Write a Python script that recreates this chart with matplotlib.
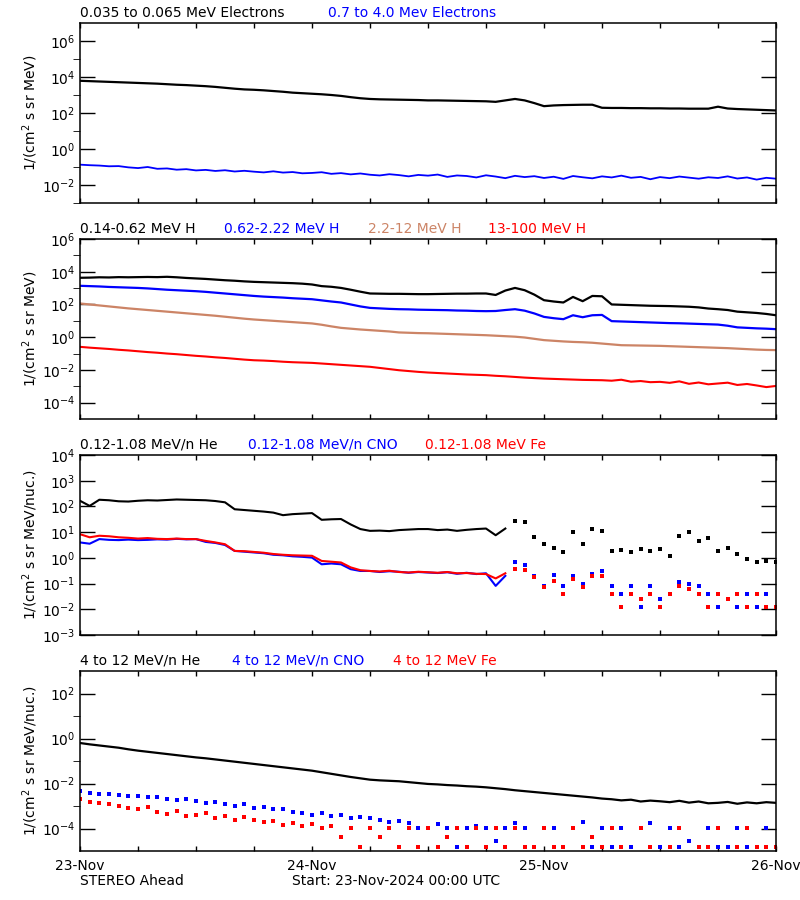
import numpy as np
import matplotlib
matplotlib.use("Agg")
import matplotlib.pyplot as plt
from matplotlib.ticker import FixedLocator, NullLocator, NullFormatter, LogFormatterSciNotation

# hours since 23-Nov-2024 00:00 UTC, one value per hour (log10 of the flux)
hours = np.arange(73)
nan = np.nan

# panel 1: electrons
e_low = [3.79, 3.77, 3.75, 3.73, 3.71, 3.69, 3.67, 3.65, 3.63, 3.60, 3.57, 3.55,
         3.52, 3.49, 3.45, 3.40, 3.35, 3.31, 3.29, 3.26, 3.22, 3.18, 3.13, 3.10,
         3.07, 3.04, 3.00, 2.95, 2.88, 2.82, 2.78, 2.76, 2.75, 2.74, 2.73, 2.72,
         2.70, 2.70, 2.69, 2.68, 2.67, 2.66, 2.65, 2.62, 2.70, 2.78, 2.70, 2.55,
         2.38, 2.42, 2.44, 2.45, 2.46, 2.46, 2.29, 2.28, 2.28, 2.27, 2.27, 2.26,
         2.26, 2.25, 2.25, 2.24, 2.24, 2.24, 2.35, 2.25, 2.22, 2.20, 2.18, 2.16,
         2.14]
e_high = [-0.87, -0.90, -0.92, -0.96, -0.95, -1.02, -1.06, -1.00, -1.10, -1.08, -1.15, -1.12,
          -1.19, -1.16, -1.22, -1.18, -1.25, -1.21, -1.26, -1.30, -1.24, -1.31, -1.28, -1.35,
          -1.33, -1.29, -1.38, -1.34, -1.41, -1.36, -1.43, -1.47, -1.40, -1.45, -1.52, -1.44,
          -1.48, -1.42, -1.55, -1.47, -1.50, -1.58, -1.46, -1.53, -1.62, -1.49, -1.56, -1.51,
          -1.61, -1.54, -1.66, -1.50, -1.57, -1.63, -1.52, -1.58, -1.48, -1.60, -1.55, -1.68,
          -1.56, -1.62, -1.53, -1.59, -1.65, -1.57, -1.61, -1.52, -1.64, -1.58, -1.70, -1.60,
          -1.65]

# panel 2: protons
h1 = [3.63, 3.64, 3.66, 3.65, 3.67, 3.66, 3.67, 3.68, 3.67, 3.69, 3.66, 3.62,
      3.59, 3.56, 3.52, 3.48, 3.45, 3.41, 3.38, 3.36, 3.34, 3.32, 3.30, 3.27,
      3.22, 3.12, 3.08, 3.01, 2.90, 2.78, 2.67, 2.66, 2.65, 2.65, 2.64, 2.63,
      2.63, 2.64, 2.65, 2.66, 2.66, 2.67, 2.67, 2.58, 2.85, 3.01, 2.87, 2.60,
      2.26, 2.18, 2.12, 2.46, 2.20, 2.52, 2.50, 2.00, 1.98, 1.96, 1.94, 1.92,
      1.91, 1.90, 1.88, 1.86, 1.82, 1.75, 1.71, 1.66, 1.56, 1.52, 1.48, 1.42,
      1.34]
h2 = [3.14, 3.12, 3.10, 3.07, 3.05, 3.03, 3.01, 2.98, 2.94, 2.90, 2.87, 2.84,
      2.81, 2.77, 2.72, 2.67, 2.62, 2.57, 2.52, 2.48, 2.45, 2.42, 2.38, 2.35,
      2.32, 2.25, 2.18, 2.12, 2.00, 1.88, 1.79, 1.76, 1.73, 1.71, 1.70, 1.68,
      1.67, 1.66, 1.65, 1.63, 1.62, 1.60, 1.59, 1.60, 1.66, 1.71, 1.62, 1.45,
      1.24, 1.16, 1.10, 1.34, 1.22, 1.34, 1.36, 0.98, 0.96, 0.94, 0.92, 0.90,
      0.88, 0.86, 0.85, 0.83, 0.81, 0.79, 0.77, 0.70, 0.60, 0.57, 0.54, 0.52,
      0.49]
h3 = [2.06, 2.00, 1.94, 1.88, 1.82, 1.76, 1.71, 1.66, 1.61, 1.56, 1.51, 1.46,
      1.41, 1.36, 1.31, 1.25, 1.19, 1.13, 1.08, 1.04, 1.00, 0.96, 0.92, 0.88,
      0.84, 0.76, 0.66, 0.57, 0.52, 0.47, 0.43, 0.39, 0.35, 0.29, 0.27, 0.25,
      0.24, 0.22, 0.20, 0.18, 0.16, 0.14, 0.12, 0.09, 0.06, 0.03, -0.02, -0.10,
      -0.18, -0.22, -0.26, -0.29, -0.31, -0.34, -0.39, -0.44, -0.49, -0.50, -0.51, -0.52,
      -0.53, -0.55, -0.57, -0.59, -0.61, -0.63, -0.65, -0.67, -0.70, -0.73, -0.76, -0.78,
      -0.79]
h4 = [-0.59, -0.64, -0.68, -0.72, -0.77, -0.81, -0.86, -0.91, -0.95, -1.00, -1.04, -1.09,
      -1.14, -1.18, -1.23, -1.27, -1.32, -1.37, -1.41, -1.43, -1.46, -1.50, -1.53, -1.55,
      -1.57, -1.61, -1.65, -1.69, -1.73, -1.77, -1.81, -1.88, -1.95, -2.02, -2.07, -2.12,
      -2.16, -2.19, -2.22, -2.25, -2.28, -2.30, -2.32, -2.36, -2.39, -2.43, -2.47, -2.50,
      -2.53, -2.55, -2.57, -2.59, -2.61, -2.62, -2.63, -2.66, -2.60, -2.72, -2.68, -2.75,
      -2.73, -2.79, -2.70, -2.85, -2.77, -2.88, -2.83, -2.78, -2.92, -2.86, -2.95, -3.05,
      -2.98]

# panel 3: 0.12-1.08 MeV/n ions
he_lo = [2.22, 2.02, 2.26, 2.24, 2.20, 2.19, 2.22, 2.24, 2.23, 2.25, 2.27, 2.26,
         2.25, 2.24, 2.21, 2.16, 1.89, 1.86, 1.83, 1.80, 1.76, 1.66, 1.70, 1.72,
         1.74, 1.48, 1.50, 1.51, 1.30, 1.12, 1.05, 1.06, 1.04, 1.08, 1.10, 1.12,
         1.12, 1.08, 1.10, 1.05, 1.09, 1.12, 1.14, 0.88, 1.14, 1.44, 1.38, 0.83,
         0.53, 0.40, 0.21, 0.99, 0.53, 1.12, 1.05, 0.27, 0.30, 0.21, 0.34, 0.28,
         0.34, 0.08, 0.86, 0.99, 0.66, 0.79, 0.27, 0.40, 0.14, -0.05, -0.18, -0.12,
         -0.18]
cno_lo = [0.60, 0.55, 0.73, 0.70, 0.69, 0.71, 0.69, 0.70, 0.72, 0.71, 0.74, 0.72,
          0.73, 0.62, 0.58, 0.50, 0.27, 0.24, 0.21, 0.18, 0.12, 0.10, 0.06, 0.04,
          0.01, -0.25, -0.22, -0.25, -0.44, -0.51, -0.51, -0.55, -0.52, -0.54, -0.58, -0.55,
          -0.57, -0.59, -0.56, -0.62, -0.58, -0.63, -0.60, -1.09, -0.70, -0.18, -0.28, -0.70,
          -1.09, -0.68, -1.09, -0.70, -1.02, -0.63, -0.51, -1.09, -1.41, -1.09, -1.93, -1.09,
          -1.61, -1.41, -0.95, -1.02, -1.09, -1.41, -1.93, -1.61, -1.93, -1.41, -1.93, -1.41,
          -1.93]
fe_lo = [0.92, 0.80, 0.86, 0.84, 0.80, 0.78, 0.75, 0.77, 0.74, 0.73, 0.75, 0.73,
         0.73, 0.66, 0.60, 0.53, 0.27, 0.26, 0.23, 0.20, 0.15, 0.12, 0.10, 0.09,
         0.08, -0.12, -0.15, -0.18, -0.37, -0.48, -0.51, -0.53, -0.50, -0.55, -0.57, -0.54,
         -0.56, -0.58, -0.55, -0.60, -0.59, -0.62, -0.63, -0.80, -0.60, -0.44, -0.48, -0.76,
         -1.15, -0.90, -1.41, -0.82, -1.15, -0.70, -0.70, -1.41, -1.93, -1.41, -1.61, -1.41,
         -1.93, -1.41, -1.09, -1.20, -1.41, -1.93, -1.41, -1.61, -1.41, -1.93, -1.41, -1.93,
         -1.93]

# panel 4: 4-12 MeV/n ions
he_hi = [-0.20, -0.26, -0.31, -0.36, -0.41, -0.48, -0.54, -0.59, -0.64, -0.69, -0.74, -0.79,
         -0.84, -0.88, -0.93, -0.98, -1.03, -1.08, -1.13, -1.18, -1.23, -1.28, -1.33, -1.38,
         -1.43, -1.50, -1.57, -1.64, -1.71, -1.77, -1.83, -1.86, -1.88, -1.90, -1.94, -1.98,
         -2.02, -2.04, -2.07, -2.09, -2.12, -2.14, -2.17, -2.21, -2.25, -2.30, -2.34, -2.38,
         -2.42, -2.46, -2.50, -2.54, -2.58, -2.62, -2.67, -2.70, -2.75, -2.72, -2.80, -2.76,
         -2.79, -2.83, -2.77, -2.85, -2.80, -2.88, -2.86, -2.82, -2.90, -2.84, -2.88, -2.83,
         -2.86]
cno_hi = [-2.35, -2.40, -2.45, -2.48, -2.52, -2.55, -2.57, -2.62, -2.60, -2.68, -2.72, -2.70,
          -2.76, -2.85, -2.80, -2.90, -2.98, -2.93, -3.08, -3.05, -3.15, -3.12, -3.25, -3.30,
          -3.38, -3.30, -3.45, -3.40, -3.55, -3.48, -3.52, -3.62, -3.70, -3.65, -3.75, -3.96,
          -3.96, -3.80, -3.96, -4.82, -3.96, -3.90, -3.96, -4.56, -3.96, -3.75, -3.96, -4.82,
          -3.96, -3.96, -4.82, -3.96, -3.70, -4.82, -3.96, -4.82, -3.96, -4.82, -3.96, -3.75,
          -4.82, -3.96, -4.82, -4.56, -4.82, -3.96, -4.82, -4.82, -3.96, -4.82, -4.82, -3.96,
          -4.82]
fe_hi = [-2.71, -2.80, -2.85, -2.93, -3.00, -3.10, -3.15, -3.05, -3.25, -3.35, -3.20, -3.45,
         -3.38, -3.30, -3.55, -3.45, -3.60, -3.50, -3.60, -3.70, -3.65, -3.85, -3.75, -3.90,
         -3.82, -3.96, -3.90, -4.39, -3.96, -4.82, -3.96, -4.39, -3.96, -4.82, -3.96, -4.82,
         -3.96, -4.82, -4.39, -3.96, -4.82, -3.96, -4.82, -3.96, -4.82, -3.96, -4.82, -4.82,
         -3.96, -4.82, -4.82, -3.96, -4.82, -4.39, -4.82, -3.96, -4.82, nan, -3.96, -4.82,
         nan, -4.82, -3.96, nan, -4.82, -4.82, -3.96, nan, -4.82, -3.96, -4.82, -4.82,
         -4.82]

day_ticks = [0, 24, 48, 72]
day_labels = ["23-Nov", "24-Nov", "25-Nov", "26-Nov"]

SIENNA = "#cc8466"
FS = 10
LW = 1.6
DENSE = 44   # low-energy ions are continuous up to here, scattered after

fig = plt.figure(figsize=(8, 9), dpi=100)


def flux(v):
    return 10.0 ** np.asarray(v, dtype=float)


def panel(bottom, ylim, major, minor, ylabel):
    ax = fig.add_axes([0.1, bottom, 0.87, 0.2])
    ax.set_yscale("log")
    ax.set_xlim(0, 72)
    ax.set_ylim(*ylim)
    ax.yaxis.set_major_locator(FixedLocator(major))
    ax.yaxis.set_major_formatter(LogFormatterSciNotation())
    ax.yaxis.set_minor_locator(FixedLocator(minor) if minor else NullLocator())
    ax.yaxis.set_minor_formatter(NullFormatter())
    ax.set_xticks(np.arange(0, 73, 6))
    ax.tick_params(direction="in", top=True, right=True, labelsize=FS, width=1)
    ax.tick_params(axis="y", which="major", length=11)
    ax.tick_params(axis="y", which="minor", length=5)
    ax.tick_params(axis="x", length=3.5, labelbottom=False)
    for s in ax.spines.values():
        s.set_linewidth(1.1)
    ax.set_ylabel(ylabel, fontsize=FS)
    ax.yaxis.set_label_coords(-0.058, 0.5)
    return ax


def title(x, y, s, c):
    fig.text(x / 800, 1 - y / 900, s, color=c, fontsize=FS, va="center")


def dots(ax, y, c, ms=2.6):
    ax.plot(hours, flux(y), "s", color=c, ms=ms, mew=0)


def split(ax, y, c):
    # continuous part as a line, the rest as single dots
    v = flux(y)
    ax.plot(hours[:DENSE + 1], v[:DENSE + 1], "-", color=c, lw=1.5)
    ax.plot(hours[DENSE + 1:], v[DENSE + 1:], "s", color=c, ms=2.6, mew=0)


lab1 = "1/(cm$^2$ s sr MeV)"
lab2 = "1/(cm$^2$ s sr MeV/nuc.)"

# panel 1
ax1 = panel(1 - 203 / 900, (1e-3, 1e7), [1e-2, 1, 1e2, 1e4, 1e6],
            [1e-3, 1e-1, 10, 1e3, 1e5], lab1)
ax1.plot(hours, flux(e_low), color="black", lw=LW)
ax1.plot(hours, flux(e_high), color="blue", lw=1.3)
title(80, 13, "0.035 to 0.065 MeV Electrons", "black")
title(328, 13, "0.7 to 4.0 Mev Electrons", "blue")

# panel 2
ax2 = panel(1 - 419 / 900, (1e-5, 1e6), [1e-4, 1e-2, 1, 1e2, 1e4, 1e6],
            [1e-3, 1e-1, 10, 1e3, 1e5], lab1)
ax2.plot(hours, flux(h1), color="black", lw=LW)
ax2.plot(hours, flux(h2), color="blue", lw=LW)
ax2.plot(hours, flux(h3), color=SIENNA, lw=LW)
ax2.plot(hours, flux(h4), color="red", lw=1.5)
title(80, 229, "0.14-0.62 MeV H", "black")
title(224, 229, "0.62-2.22 MeV H", "blue")
title(368, 229, "2.2-12 MeV H", SIENNA)
title(488, 229, "13-100 MeV H", "red")

# panel 3
ax3 = panel(1 - 635 / 900, (1e-3, 1e4), [1e-3, 1e-2, 1e-1, 1, 10, 1e2, 1e3, 1e4],
            None, lab2)
split(ax3, he_lo, "black")
split(ax3, cno_lo, "blue")
split(ax3, fe_lo, "red")
title(80, 445, "0.12-1.08 MeV/n He", "black")
title(248, 445, "0.12-1.08 MeV/n CNO", "blue")
title(425, 445, "0.12-1.08 MeV Fe", "red")

# panel 4
ax4 = panel(1 - 851 / 900, (1e-5, 1e3), [1e-4, 1e-2, 1, 1e2],
            [1e-3, 1e-1, 10], lab2)
ax4.plot(hours, flux(he_hi), color="black", lw=LW)
dots(ax4, cno_hi, "blue")
dots(ax4, fe_hi, "red")
title(80, 661, "4 to 12 MeV/n He", "black")
title(232, 661, "4 to 12 MeV/n CNO", "blue")
title(393, 661, "4 to 12 MeV Fe", "red")

ax4.tick_params(axis="x", labelbottom=True, pad=6)
ax4.set_xticks(np.arange(0, 73, 6))
ax4.set_xticklabels([day_labels[day_ticks.index(h)] if h in day_ticks else "" for h in range(0, 73, 6)])

fig.text(80 / 800, 1 - 881 / 900, "STEREO Ahead", fontsize=FS, va="center")
fig.text(292 / 800, 1 - 881 / 900, "Start: 23-Nov-2024 00:00 UTC", fontsize=FS, va="center")

fig.savefig("out.png", dpi=100)
